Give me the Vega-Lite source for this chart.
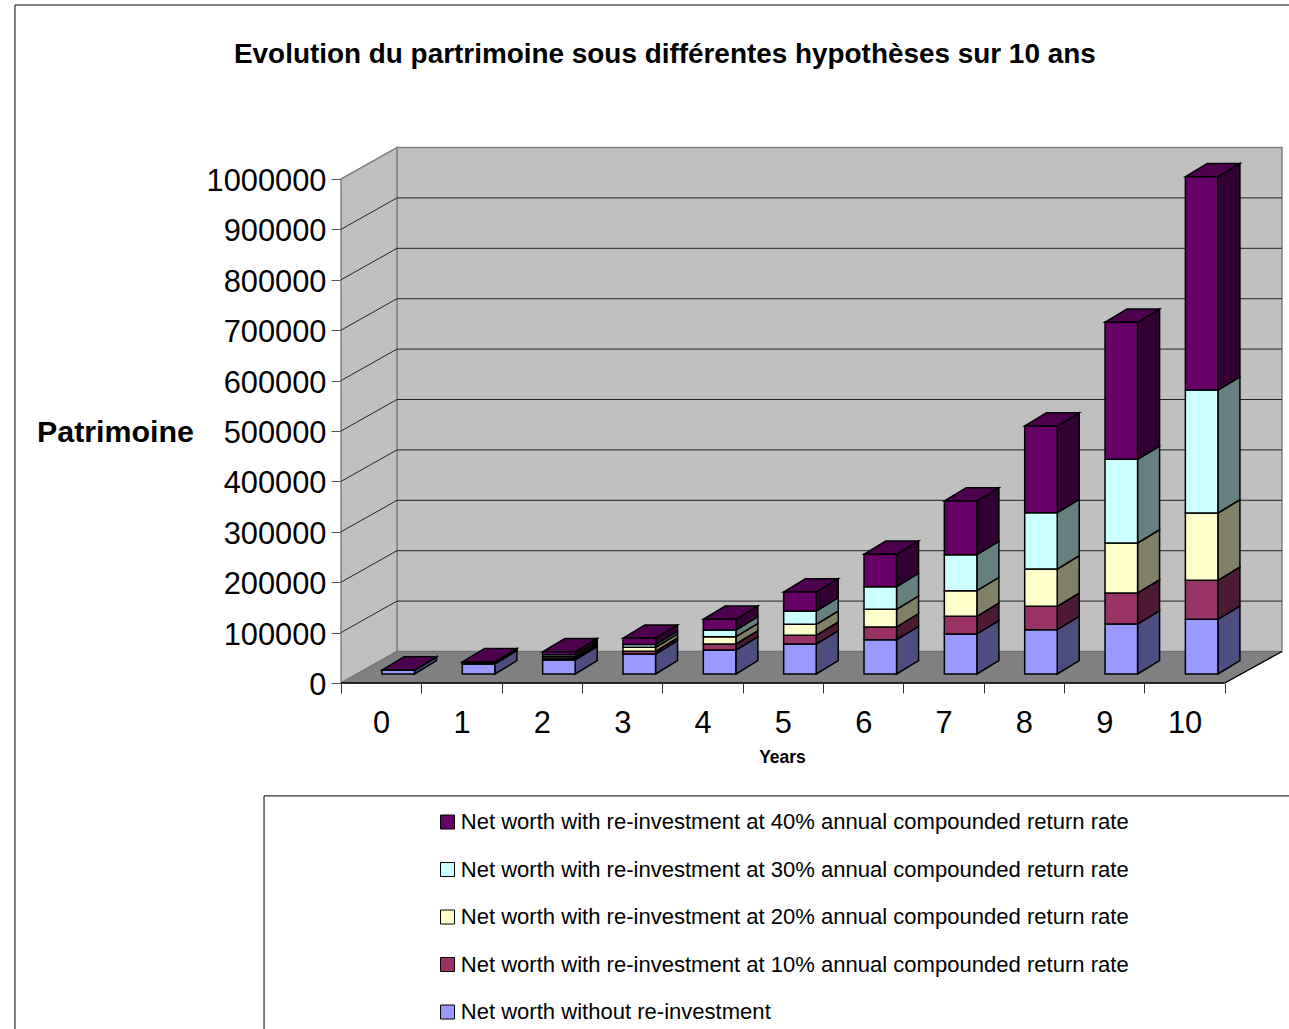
{
"$schema":"https://vega.github.io/schema/vega-lite/v6.json",
"autosize":"none","width":941,"height":536,
"padding":{"left":341,"top":147,"right":7,"bottom":346},
"background":"white",
"title":{"text":"Evolution du partrimoine sous différentes hypothèses sur 10 ans","font":"Liberation Sans","fontSize":27.9,"fontWeight":"bold","color":"black","anchor":"start","frame":"group","dx":-107,"offset":0,"dy":78,"baseline":"middle"},
"config":{"font":"Liberation Sans","view":{"stroke":null}},
"datasets":{
"ticks":[{"v":0},{"v":100000},{"v":200000},{"v":300000},{"v":400000},{"v":500000},{"v":600000},{"v":700000},{"v":800000},{"v":900000},{"v":1000000}]
},
"data":{"values":[
{"year":0,"order":0,"series":"Net worth without re-investment","value":7300},
{"year":0,"order":1,"series":"Net worth with re-investment at 10% annual compounded return rate","value":100},
{"year":0,"order":2,"series":"Net worth with re-investment at 20% annual compounded return rate","value":100},
{"year":0,"order":3,"series":"Net worth with re-investment at 30% annual compounded return rate","value":100},
{"year":0,"order":4,"series":"Net worth with re-investment at 40% annual compounded return rate","value":100},
{"year":1,"order":0,"series":"Net worth without re-investment","value":20000},
{"year":1,"order":1,"series":"Net worth with re-investment at 10% annual compounded return rate","value":800},
{"year":1,"order":2,"series":"Net worth with re-investment at 20% annual compounded return rate","value":1000},
{"year":1,"order":3,"series":"Net worth with re-investment at 30% annual compounded return rate","value":1000},
{"year":1,"order":4,"series":"Net worth with re-investment at 40% annual compounded return rate","value":1200},
{"year":2,"order":0,"series":"Net worth without re-investment","value":28000},
{"year":2,"order":1,"series":"Net worth with re-investment at 10% annual compounded return rate","value":2600},
{"year":2,"order":2,"series":"Net worth with re-investment at 20% annual compounded return rate","value":3400},
{"year":2,"order":3,"series":"Net worth with re-investment at 30% annual compounded return rate","value":4000},
{"year":2,"order":4,"series":"Net worth with re-investment at 40% annual compounded return rate","value":6000},
{"year":3,"order":0,"series":"Net worth without re-investment","value":39700},
{"year":3,"order":1,"series":"Net worth with re-investment at 10% annual compounded return rate","value":5400},
{"year":3,"order":2,"series":"Net worth with re-investment at 20% annual compounded return rate","value":8000},
{"year":3,"order":3,"series":"Net worth with re-investment at 30% annual compounded return rate","value":5400},
{"year":3,"order":4,"series":"Net worth with re-investment at 40% annual compounded return rate","value":12500},
{"year":4,"order":0,"series":"Net worth without re-investment","value":47600},
{"year":4,"order":1,"series":"Net worth with re-investment at 10% annual compounded return rate","value":11900},
{"year":4,"order":2,"series":"Net worth with re-investment at 20% annual compounded return rate","value":14500},
{"year":4,"order":3,"series":"Net worth with re-investment at 30% annual compounded return rate","value":13300},
{"year":4,"order":4,"series":"Net worth with re-investment at 40% annual compounded return rate","value":21200},
{"year":5,"order":0,"series":"Net worth without re-investment","value":59500},
{"year":5,"order":1,"series":"Net worth with re-investment at 10% annual compounded return rate","value":17300},
{"year":5,"order":2,"series":"Net worth with re-investment at 20% annual compounded return rate","value":21800},
{"year":5,"order":3,"series":"Net worth with re-investment at 30% annual compounded return rate","value":26400},
{"year":5,"order":4,"series":"Net worth with re-investment at 40% annual compounded return rate","value":37700},
{"year":6,"order":0,"series":"Net worth without re-investment","value":68100},
{"year":6,"order":1,"series":"Net worth with re-investment at 10% annual compounded return rate","value":25200},
{"year":6,"order":2,"series":"Net worth with re-investment at 20% annual compounded return rate","value":35100},
{"year":6,"order":3,"series":"Net worth with re-investment at 30% annual compounded return rate","value":44800},
{"year":6,"order":4,"series":"Net worth with re-investment at 40% annual compounded return rate","value":64300},
{"year":7,"order":0,"series":"Net worth without re-investment","value":79400},
{"year":7,"order":1,"series":"Net worth with re-investment at 10% annual compounded return rate","value":35100},
{"year":7,"order":2,"series":"Net worth with re-investment at 20% annual compounded return rate","value":50800},
{"year":7,"order":3,"series":"Net worth with re-investment at 30% annual compounded return rate","value":71400},
{"year":7,"order":4,"series":"Net worth with re-investment at 40% annual compounded return rate","value":106500},
{"year":8,"order":0,"series":"Net worth without re-investment","value":87900},
{"year":8,"order":1,"series":"Net worth with re-investment at 10% annual compounded return rate","value":46400},
{"year":8,"order":2,"series":"Net worth with re-investment at 20% annual compounded return rate","value":74000},
{"year":8,"order":3,"series":"Net worth with re-investment at 30% annual compounded return rate","value":111700},
{"year":8,"order":4,"series":"Net worth with re-investment at 40% annual compounded return rate","value":172000},
{"year":9,"order":0,"series":"Net worth without re-investment","value":99200},
{"year":9,"order":1,"series":"Net worth with re-investment at 10% annual compounded return rate","value":61500},
{"year":9,"order":2,"series":"Net worth with re-investment at 20% annual compounded return rate","value":99200},
{"year":9,"order":3,"series":"Net worth with re-investment at 30% annual compounded return rate","value":166100},
{"year":9,"order":4,"series":"Net worth with re-investment at 40% annual compounded return rate","value":271800},
{"year":10,"order":0,"series":"Net worth without re-investment","value":108500},
{"year":10,"order":1,"series":"Net worth with re-investment at 10% annual compounded return rate","value":77400},
{"year":10,"order":2,"series":"Net worth with re-investment at 20% annual compounded return rate","value":133500},
{"year":10,"order":3,"series":"Net worth with re-investment at 30% annual compounded return rate","value":244000},
{"year":10,"order":4,"series":"Net worth with re-investment at 40% annual compounded return rate","value":423200}
]},
"transform":[
{"stack":"value","groupby":["year"],"sort":[{"field":"order","order":"ascending"}],"as":["v0","v1"]},
{"calculate":"datum.year+0.51","as":"bx0"},
{"calculate":"datum.year+0.915","as":"bx1"},
{"calculate":"datum.v0+17857","as":"fy0"},
{"calculate":"datum.v1+17857","as":"fy1"}
],
"resolve":{"scale":{"fill":"independent"},"axis":{"x":"independent","y":"independent"}},
"layer":[
{"data":{"values":[{"a":-4.058,"b":11.95,"c":1345238,"d":-708333}]},
 "mark":{"type":"rect","fill":"transparent","stroke":"black","strokeWidth":1},
 "encoding":{"x":{"field":"a","type":"quantitative","axis":null,"scale":{"domain":[0,11.7127],"nice":false,"zero":false}},"x2":{"field":"b"},"y":{"field":"c","type":"quantitative","axis":null,"scale":{"domain":[0,1063492],"nice":false,"zero":false}},"y2":{"field":"d"}}},
{"data":{"values":[{"a":-0.958,"b":11.95,"c":-224000,"d":-708333}]},
 "mark":{"type":"rect","fill":"transparent","stroke":"black","strokeWidth":1},
 "encoding":{"x":{"field":"a","type":"quantitative","axis":null,"scale":{"domain":[0,11.7127],"nice":false,"zero":false}},"x2":{"field":"b"},"y":{"field":"c","type":"quantitative","axis":null,"scale":{"domain":[0,1063492],"nice":false,"zero":false}},"y2":{"field":"d"}}},
{"data":{"values":[{"a":0.697,"b":11.7127,"c":62500,"d":1062500}]},
 "mark":{"type":"rect","fill":"#C0C0C0","stroke":"#808080","strokeWidth":1.5},
 "encoding":{"x":{"field":"a","type":"quantitative","axis":null,"scale":{"domain":[0,11.7127],"nice":false,"zero":false}},"x2":{"field":"b"},"y":{"field":"c","type":"quantitative","axis":null,"scale":{"domain":[0,1063492],"nice":false,"zero":false}},"y2":{"field":"d"}}},
{"data":{"values":[{"a":0,"c":0,"d":1000000},{"a":0.697,"c":62500,"d":1062500}]},
 "mark":{"type":"area","fill":"#C0C0C0","stroke":"#808080","strokeWidth":1.5,"orient":"vertical"},
 "encoding":{"x":{"field":"a","type":"quantitative","axis":null,"scale":{"domain":[0,11.7127],"nice":false,"zero":false}},"y":{"field":"c","type":"quantitative","axis":null,"stack":null,"scale":{"domain":[0,1063492],"nice":false,"zero":false}},"y2":{"field":"d"}}},
{"data":{"values":[{"c":0,"a":0,"b":11},{"c":62500,"a":0.697,"b":11.7127}]},
 "mark":{"type":"area","fill":"#808080","stroke":"#707070","strokeWidth":1,"orient":"horizontal"},
 "encoding":{"y":{"field":"c","type":"quantitative","axis":null,"scale":{"domain":[0,1063492],"nice":false,"zero":false}},"x":{"field":"a","type":"quantitative","stack":null,"scale":{"domain":[0,11.7127],"nice":false,"zero":false},"axis":{"orient":"bottom","values":[0,1,2,3,4,5,6,7,8,9,10,11],"labels":false,"domain":false,"grid":false,"ticks":true,"tickSize":10,"tickColor":"#333333","tickWidth":1,"title":"Years","titleFontSize":17.5,"titleFontWeight":"bold","titleColor":"black","titleX":441,"titleY":74,"titleBaseline":"middle","titleAlign":"center"}},"x2":{"field":"b"}}},
{"data":{"values":[{"a":0,"b":11,"c":0,"d":0},{"a":11,"b":11.7127,"c":0,"d":62500}]},
 "mark":{"type":"rule","stroke":"black","strokeWidth":1.3},
 "encoding":{"x":{"field":"a","type":"quantitative","axis":null,"scale":{"domain":[0,11.7127],"nice":false,"zero":false}},"x2":{"field":"b"},"y":{"field":"c","type":"quantitative","axis":null,"scale":{"domain":[0,1063492],"nice":false,"zero":false}},"y2":{"field":"d"}}},
{"data":{"name":"ticks"},
 "transform":[{"filter":"datum.v>0 && datum.v<1000000"},{"calculate":"0","as":"a"},{"calculate":"0.697","as":"b"},{"calculate":"datum.v+62500","as":"w"}],
 "mark":{"type":"rule","stroke":"#222222","strokeWidth":1},
 "encoding":{"x":{"field":"a","type":"quantitative","axis":null,"scale":{"domain":[0,11.7127],"nice":false,"zero":false}},"x2":{"field":"b"},"y":{"field":"v","type":"quantitative","axis":null,"scale":{"domain":[0,1063492],"nice":false,"zero":false}},"y2":{"field":"w"}}},
{"data":{"name":"ticks"},
 "transform":[{"filter":"datum.v>0 && datum.v<1000000"},{"calculate":"0.697","as":"a"},{"calculate":"11.7127","as":"b"},{"calculate":"datum.v+62500","as":"w"}],
 "mark":{"type":"rule","stroke":"#222222","strokeWidth":1},
 "encoding":{"x":{"field":"a","type":"quantitative","axis":null,"scale":{"domain":[0,11.7127],"nice":false,"zero":false}},"x2":{"field":"b"},"y":{"field":"w","type":"quantitative","scale":{"domain":[0,1063492],"nice":false,"zero":false},"axis":{"orient":"left","values":[0,100000,200000,300000,400000,500000,600000,700000,800000,900000,1000000],"format":"d","domain":false,"grid":false,"tickSize":10,"tickColor":"#555555","tickWidth":1,"labelFontSize":30.8,"labelColor":"black","labelPadding":5,"labelOffset":2.5,"title":"Patrimoine","titleFontSize":30.4,"titleFontWeight":"bold","titleColor":"black","titleAngle":0,"titleX":-226,"titleY":285,"titleAlign":"center","titleBaseline":"middle"}}}},
{"transform":[{"calculate":"datum.bx1+0.274","as":"bk"},{"fold":["bx1","bk"],"as":["edge","sx"]},{"calculate":"datum.edge==='bk'?26400:0","as":"lift"},{"calculate":"datum.fy0+datum.lift","as":"sy0"},{"calculate":"datum.fy1+datum.lift","as":"sy1"}],
 "mark":{"type":"area","stroke":"black","strokeWidth":1.5,"strokeJoin":"miter","orient":"vertical"},
 "encoding":{"x":{"field":"sx","type":"quantitative","axis":null,"scale":{"domain":[0,11.7127],"nice":false,"zero":false}},"y":{"field":"sy0","type":"quantitative","axis":null,"stack":null,"scale":{"domain":[0,1063492],"nice":false,"zero":false}},"y2":{"field":"sy1"},"detail":{"field":"year"},
 "fill":{"field":"series","type":"nominal","legend":null,"scale":{"domain":["Net worth with re-investment at 40% annual compounded return rate","Net worth with re-investment at 30% annual compounded return rate","Net worth with re-investment at 20% annual compounded return rate","Net worth with re-investment at 10% annual compounded return rate","Net worth without re-investment"],"range":["#330033","#668080","#808066","#4D1A33","#4D4D80"]}}}},
{"transform":[{"filter":"datum.order===4"},{"calculate":"datum.fy1","as":"ty0"},{"calculate":"datum.fy1+26400","as":"ty1"},{"fold":["ty0","ty1"],"as":["edge","ty"]},{"calculate":"datum.edge==='ty1'?datum.bx0+0.274:datum.bx0","as":"tx0"},{"calculate":"datum.edge==='ty1'?datum.bx1+0.274:datum.bx1","as":"tx1"}],
 "mark":{"type":"area","fill":"#4D004D","stroke":"black","strokeWidth":1.5,"orient":"horizontal"},
 "encoding":{"y":{"field":"ty","type":"quantitative","axis":null,"scale":{"domain":[0,1063492],"nice":false,"zero":false}},"x":{"field":"tx0","type":"quantitative","axis":null,"stack":null,"scale":{"domain":[0,11.7127],"nice":false,"zero":false}},"x2":{"field":"tx1"},"detail":{"field":"year"}}},
{"mark":{"type":"rect","stroke":"black","strokeWidth":1.5},
 "encoding":{"x":{"field":"bx0","type":"quantitative","scale":{"domain":[0,11.7127],"nice":false,"zero":false},"axis":{"orient":"bottom","values":[0.5,1.5,2.5,3.5,4.5,5.5,6.5,7.5,8.5,9.5,10.5],"labelExpr":"format(floor(datum.value),'d')","ticks":false,"domain":false,"grid":false,"labelFontSize":30.8,"labelColor":"black","labelPadding":25,"title":null}},"x2":{"field":"bx1"},"y":{"field":"fy0","type":"quantitative","axis":null,"scale":{"domain":[0,1063492],"nice":false,"zero":false}},"y2":{"field":"fy1"},
 "fill":{"field":"series","type":"nominal","scale":{"domain":["Net worth with re-investment at 40% annual compounded return rate","Net worth with re-investment at 30% annual compounded return rate","Net worth with re-investment at 20% annual compounded return rate","Net worth with re-investment at 10% annual compounded return rate","Net worth without re-investment"],"range":["#660066","#CCFFFF","#FFFFCC","#993366","#9999FF"]},
 "legend":{"orient":"none","legendX":95.5,"legendY":664,"title":null,"padding":0,"symbolType":"square","symbolSize":196,"symbolStrokeColor":"black","symbolStrokeWidth":1,"labelFontSize":22.05,"labelColor":"black","labelLimit":900,"labelOffset":2.2,"rowPadding":24.5}}}}
]
}
